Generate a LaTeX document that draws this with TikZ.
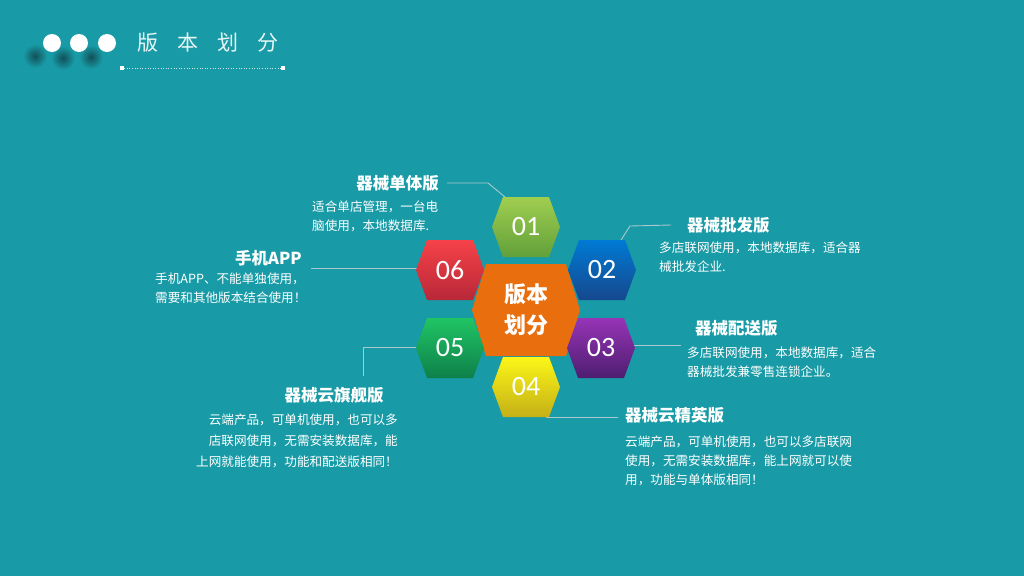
\documentclass[tikz,border=0pt]{standalone}
\usepackage{fontspec}
\setmainfont{Noto Sans CJK SC}
\newfontfamily\numfont{Carlito}
\usepackage{tikz}
\usetikzlibrary{positioning,calc}
\definecolor{BgTeal}{RGB}{24,155,166}
\definecolor{ShadowTeal}{RGB}{18,80,88}
\definecolor{LinkGray}{RGB}{170,200,205}
\definecolor{CoreOrange}{RGB}{232,110,14}
\definecolor{GreenTop}{RGB}{160,206,80}\definecolor{GreenBot}{RGB}{98,160,58}
\definecolor{BlueTop}{RGB}{0,122,212}\definecolor{BlueBot}{RGB}{22,72,142}
\definecolor{PurpleTop}{RGB}{150,52,182}\definecolor{PurpleBot}{RGB}{78,30,112}
\definecolor{YellowTop}{RGB}{252,246,24}\definecolor{YellowBot}{RGB}{196,176,22}
\definecolor{EmeraldTop}{RGB}{32,196,100}\definecolor{EmeraldBot}{RGB}{14,128,74}
\definecolor{RedTop}{RGB}{246,66,72}\definecolor{RedBot}{RGB}{184,40,56}
\tikzset{hdot/.style={circle,fill=white,inner sep=0pt,minimum size=18pt}, hexnum/.style={text=white,font=\numfont\fontsize{28}{28}\selectfont,inner sep=0pt}, coretext/.style={text=white,font=\bfseries\fontsize{22}{31}\selectfont,align=center,inner sep=0pt}, head/.style={text=white,font=\bfseries\fontsize{16.5}{20}\selectfont,inner sep=0pt}, desc/.style={text=white,font=\fontsize{12.6}{19}\selectfont,align=left,inner sep=0pt}, link/.style={draw=LinkGray,line width=0.9pt}}

\begin{document}
\begin{tikzpicture}[x=1pt,y=-1pt]
\useasboundingbox (0,0) rectangle (1024,576);
\fill[BgTeal] (0,0) rectangle (1024,576);
% header
\shade[inner color=ShadowTeal,outer color=BgTeal] (35,56) circle (12);
\shade[inner color=ShadowTeal,outer color=BgTeal] (63,58) circle (12);
\shade[inner color=ShadowTeal,outer color=BgTeal] (91,57) circle (12);
\node[hdot] (dot1) at (52,43) {};
\node[hdot] (dot2) at (79,43) {};
\node[hdot] (dot3) at (107,43) {};
\node[text=white!90!BgTeal,font=\fontsize{21}{21}\selectfont,inner sep=0pt,anchor=west] (title) at (137,43) {版\hspace{19pt}本\hspace{19pt}划\hspace{19pt}分};
\node[fill=white,inner sep=0pt,minimum size=4pt] (rulel) at (122,68) {};
\node[fill=white,inner sep=0pt,minimum size=4pt] (ruler) at (283,68) {};
\draw[white!80!BgTeal,dotted,line width=0.6pt] (rulel) -- (ruler);
% hex centres
\coordinate (c00) at (526,310);
\coordinate (c01) at (526,227);
\coordinate (c02) at (602,270);
\coordinate (c03) at (601,348);
\coordinate (c04) at (526,387);
\coordinate (c05) at (450,348);
\coordinate (c06) at (450,270);
% texts
\node[head,anchor=east] (t01) at (439,183) {器械单体版};
\node[desc,anchor=north west] (d01) at (312,201) {适合单店管理，一台电\\脑使用，本地数据库.};
\node[head,anchor=west] (t02) at (687,225) {器械批发版};
\node[desc,anchor=north west] (d02) at (659,242) {多店联网使用，本地数据库，适合器\\械批发企业.};
\node[head,anchor=west] (t03) at (695,328) {器械配送版};
\node[desc,anchor=north west] (d03) at (687,347) {多店联网使用，本地数据库，适合\\器械批发兼零售连锁企业。};
\node[head,anchor=west] (t04) at (625,415) {器械云精英版};
\node[desc,anchor=north west] (d04) at (625,436) {云端产品，可单机使用，也可以多店联网\\使用，无需安装数据库，能上网就可以使\\用，功能与单体版相同！};
\node[head] (t05) at (334,395) {器械云旗舰版};
\node[desc,anchor=north east,align=right,font=\fontsize{12.6}{21}\selectfont] (d05) at (398,414) {云端产品，可单机使用，也可以多\\店联网使用，无需安装数据库，能\\上网就能使用，功能和配送版相同！};
\node[head,anchor=east] (t06) at (302,258) {手机APP};
\node[desc,anchor=north west] (d06) at (155,273) {手机APP、不能单独使用，\\需要和其他版本结合使用！};
% connectors
\draw[link] ([xshift=8pt]t01.east) -- ++(41,0) -- ($(c01)+(-21,-30)$);
\draw[link] ($(c02)+(19,-30)$) -- ++(9,-14) -- ([xshift=-16pt]t02.west);
\draw[link] ($(c03)+(32,-3)$) -- ++(48,0);
\draw[link] ($(c04)+(20,30)$) -- ([xshift=-7pt]t04.west |- 0,417);
\draw[link] ($(c05)+(-32,-1)$) -- ++(-55,0) -- ++(0,29);
\draw[link] ($(c06)+(-32,-2)$) -- ([xshift=9pt]t06.east |- 0,268);
% hexagons
\fill[CoreOrange,shift={(c00)}] (-54,0) -- (-40,-46) -- (40,-46) -- (54,0) -- (40,46) -- (-40,46) -- cycle;
\shade[top color=GreenTop,bottom color=GreenBot,shift={(c01)}] (-34,0) -- (-23,-30) -- (23,-30) -- (34,0) -- (23,30) -- (-23,30) -- cycle;
\shade[top color=BlueTop,bottom color=BlueBot,shift={(c02)}] (-34,0) -- (-23,-30) -- (23,-30) -- (34,0) -- (23,30) -- (-23,30) -- cycle;
\shade[top color=PurpleTop,bottom color=PurpleBot,shift={(c03)}] (-34,0) -- (-23,-30) -- (23,-30) -- (34,0) -- (23,30) -- (-23,30) -- cycle;
\shade[top color=YellowTop,bottom color=YellowBot,shift={(c04)}] (-34,0) -- (-23,-30) -- (23,-30) -- (34,0) -- (23,30) -- (-23,30) -- cycle;
\shade[top color=EmeraldTop,bottom color=EmeraldBot,shift={(c05)}] (-34,0) -- (-23,-30) -- (23,-30) -- (34,0) -- (23,30) -- (-23,30) -- cycle;
\shade[top color=RedTop,bottom color=RedBot,shift={(c06)}] (-34,0) -- (-23,-30) -- (23,-30) -- (34,0) -- (23,30) -- (-23,30) -- cycle;
\node[coretext] (n00) at (c00) {版本\\划分};
\node[hexnum] (n01) at (c01) {01};
\node[hexnum] (n02) at (c02) {02};
\node[hexnum] (n03) at (c03) {03};
\node[hexnum] (n04) at (c04) {04};
\node[hexnum] (n05) at (c05) {05};
\node[hexnum] (n06) at (c06) {06};
\end{tikzpicture}
\end{document}
